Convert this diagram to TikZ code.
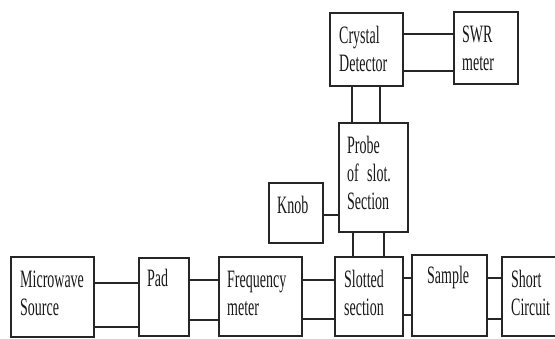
\documentclass[tikz,border=0pt]{standalone}
\usepackage{fontspec}
\setmainfont{Liberation Serif}[FakeStretch=0.56]
\usetikzlibrary{calc}
\begin{document}
\begin{tikzpicture}[x=1pt,y=-1pt,
  box/.style={draw=black!85, line width=1.5pt, inner sep=0pt, anchor=north west},
  lbl/.style={anchor=base west, inner sep=0pt, align=left, text width=90pt,
    font=\fontsize{25}{28}\selectfont, text=black!90},
  wire/.style={draw=black!85, line width=1.3pt}]
\useasboundingbox (0,0) rectangle (555,338);
\clip (0,0) rectangle (555,338);
% boxes
\node[box, minimum width=83pt, minimum height=80pt] (ms) at (10,256) {};
\node[box, minimum width=50pt, minimum height=78pt] (pad) at (138,257) {};
\node[box, minimum width=83pt, minimum height=79pt] (fm) at (218,256) {};
\node[box, minimum width=68pt, minimum height=79pt] (ss) at (334,256) {};
\node[box, minimum width=75pt, minimum height=81pt] (sam) at (411,254) {};
\node[box, minimum width=70pt, minimum height=79pt] (sc) at (501,256) {};
\node[box, minimum width=69pt, minimum height=109pt] (pr) at (338,122) {};
\node[box, minimum width=54pt, minimum height=60pt] (kn) at (268,182) {};
\node[box, minimum width=73pt, minimum height=73pt] (cd) at (329,12) {};
\node[box, minimum width=64pt, minimum height=72pt] (swr) at (453,11) {};
% labels
\node[lbl] (msT) at ($(ms.north west)+(10,31)$) {Microwave\\Source};
\node[lbl] (padT) at ($(pad.north west)+(9,29)$) {Pad};
\node[lbl] (fmT) at ($(fm.north west)+(9,31)$) {Frequency\\meter};
\node[lbl] (ssT) at ($(ss.north west)+(10,31)$) {Slotted\\section};
\node[lbl] (samT) at ($(sam.north west)+(16,29)$) {Sample};
\node[lbl] (scT) at ($(sc.north west)+(10,31)$) {Short\\Circuit};
\node[lbl] (prT) at ($(pr.north west)+(9,31)$) {Probe\\of slot.\\Section};
\node[lbl] (knT) at ($(kn.north west)+(9,31)$) {Knob};
\node[lbl] (cdT) at ($(cd.north west)+(10,31)$) {Crystal\\Detector};
\node[lbl] (swrT) at ($(swr.north west)+(9,31)$) {SWR\\meter};
% connectors
\draw[wire] (ms.east |- 0,283) -- (pad.west |- 0,283);
\draw[wire] (ms.east |- 0,327) -- (pad.west |- 0,327);
\draw[wire] (pad.east |- 0,280) -- (fm.west |- 0,280);
\draw[wire] (pad.east |- 0,320) -- (fm.west |- 0,320);
\draw[wire] (fm.east |- 0,280) -- (ss.west |- 0,280);
\draw[wire] (fm.east |- 0,319) -- (ss.west |- 0,319);
\draw[wire] (ss.east |- 0,278) -- (sam.west |- 0,278);
\draw[wire] (ss.east |- 0,315) -- (sam.west |- 0,315);
\draw[wire] (sam.east |- 0,278) -- (sc.west |- 0,278);
\draw[wire] (sam.east |- 0,319) -- (sc.west |- 0,319);
\draw[wire] (cd.east |- 0,34) -- (swr.west |- 0,34);
\draw[wire] (cd.east |- 0,71) -- (swr.west |- 0,71);
\draw[wire] (cd.south -| 352,0) -- (pr.north -| 352,0);
\draw[wire] (cd.south -| 380,0) -- (pr.north -| 380,0);
\draw[wire] (pr.south -| 353,0) -- (ss.north -| 353,0);
\draw[wire] (pr.south -| 384,0) -- (ss.north -| 384,0);
\draw[wire] (kn.east |- 0,215) -- (pr.west |- 0,215);
\end{tikzpicture}
\end{document}
